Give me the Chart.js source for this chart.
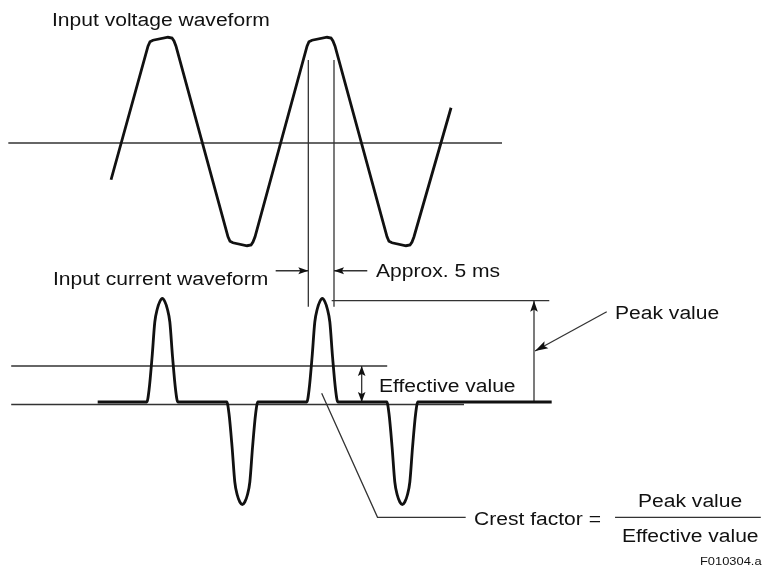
<!DOCTYPE html>
<html>
<head>
<meta charset="utf-8">
<script src="https://cdn.jsdelivr.net/npm/chart.js@4.4.1/dist/chart.umd.min.js"></script>
<style>
  body { margin: 0; background: #fff; }
  #wrap { position: relative; width: 763px; height: 574px; }
</style>
</head>
<body>
<div id="wrap"><canvas id="chart"></canvas></div>
<script>
// ---------------- data (time in ms, voltage in V, current in A) ----------------
const voltageTime = [-1.12, 3.5, 3.75, 4.12, 6.0, 6.5, 6.75, 7.0, 13.5, 13.75, 14.12, 15.88, 16.38, 16.62, 16.88,
  23.38, 23.62, 24.0, 25.88, 26.38, 26.62, 26.88, 33.38, 33.62, 34.0, 35.75, 36.25, 36.5, 36.75, 41.38]
const voltageValues = [-49, 129, 135, 137, 141, 140, 136, 129, -125, -131, -133, -137, -136, -132, -125,
  129, 135, 137, 141, 140, 136, 129, -125, -131, -133, -137, -136, -132, -125, 47]

const currentTime = [-2.79,
  3.35, 3.63, 4.01, 4.35, 4.66, 4.98, 5.29, 5.60, 5.92, 6.23, 6.57, 6.95, 7.23,
  13.35, 13.63, 14.01, 14.35, 14.66, 14.98, 15.29, 15.60, 15.92, 16.23, 16.57, 16.95, 17.23,
  23.35, 23.63, 24.01, 24.35, 24.66, 24.98, 25.29, 25.60, 25.92, 26.23, 26.57, 26.95, 27.23,
  33.35, 33.63, 34.01, 34.35, 34.66, 34.98, 35.29, 35.60, 35.92, 36.23, 36.57, 36.95, 37.23,
  53.96]
const currentValues = [0,
  0, 1.2, 4.5, 8.0, 9.3, 10.05, 10.35, 10.05, 9.3, 8.0, 4.5, 1.2, 0,
  0, -1.2, -4.5, -8.0, -9.3, -10.0, -10.25, -10.0, -9.3, -8.0, -4.5, -1.2, 0,
  0, 1.2, 4.5, 8.0, 9.3, 10.05, 10.35, 10.05, 9.3, 8.0, 4.5, 1.2, 0,
  0, -1.2, -4.5, -8.0, -9.3, -10.0, -10.25, -10.0, -9.3, -8.0, -4.5, -1.2, 0,
  0]

const peakLevel = 10.13
const effectiveLevel = 3.6
const pulseEdges = [23.54, 26.75]   // "Approx. 5 ms" markers

// ---------------- scale layout ----------------
const W = 763, H = 574
const msPx = 8, zeroTimePx = 120
const voltPx = 0.75, zeroVoltPx = 143
const ampPx = 10, zeroAmpPx = 402

const INK = '#111'
const THIN = '#333'

const toPoints = (xs, ys) => xs.map((x, i) => ({ x: x, y: ys[i] }))

const labels = [
  { text: 'Input voltage waveform', x: 52, y: 26 },
  { text: 'Input current waveform', x: 53, y: 285 },
  { text: 'Approx. 5 ms', x: 376, y: 277 },
  { text: 'Effective value', x: 379, y: 392 },
  { text: 'Peak value', x: 615, y: 319 },
  { text: 'Crest factor =', x: 474, y: 525 },
  { text: 'Peak value', x: 638, y: 507 },
  { text: 'Effective value', x: 622, y: 542 },
  { text: 'F010304.a', x: 700, y: 565, size: 11 }
]

const annotate = {
  id: 'annotate',
  beforeDatasetsDraw(chart) {
    const ctx = chart.ctx
    const sx = chart.scales.x, sv = chart.scales.yV, si = chart.scales.yI
    const px = t => sx.getPixelForValue(t)
    const pv = v => sv.getPixelForValue(v)
    const pi = a => si.getPixelForValue(a)

    const seg = (x1, y1, x2, y2) => {
      ctx.beginPath(); ctx.moveTo(x1, y1); ctx.lineTo(x2, y2); ctx.stroke()
    }
    const head = (x1, y1, x2, y2, len, half) => {
      const a = Math.atan2(y2 - y1, x2 - x1)
      ctx.beginPath()
      ctx.moveTo(x2, y2)
      ctx.lineTo(x2 - len * Math.cos(a) + half * Math.sin(a), y2 - len * Math.sin(a) - half * Math.cos(a))
      ctx.lineTo(x2 - len * 0.8 * Math.cos(a), y2 - len * 0.8 * Math.sin(a))
      ctx.lineTo(x2 - len * Math.cos(a) - half * Math.sin(a), y2 - len * Math.sin(a) + half * Math.cos(a))
      ctx.closePath(); ctx.fill()
    }
    const arrow = (x1, y1, x2, y2, len, half) => {
      seg(x1, y1, x2, y2); head(x1, y1, x2, y2, len, half)
    }

    ctx.save()
    ctx.strokeStyle = THIN
    ctx.fillStyle = INK
    ctx.lineWidth = 1.3

    // zero lines
    seg(px(-13.96), pv(0), px(47.75), pv(0))
    seg(px(-13.6), pi(-0.25), px(43.0), pi(-0.25))
    // effective and peak levels
    seg(px(-13.6), pi(effectiveLevel), px(33.4), pi(effectiveLevel))
    seg(px(26.46), pi(peakLevel), px(53.66), pi(peakLevel))
    // pulse width markers
    pulseEdges.forEach(t => seg(px(t), pv(110.7), px(t), pv(-218.3)))
    arrow(px(19.46), pv(-170.3), px(pulseEdges[0]), pv(-170.3), 10, 3.5)
    arrow(px(30.91), pv(-170.3), px(pulseEdges[1]), pv(-170.3), 10, 3.5)
    // peak arrow
    arrow(px(51.75), pi(0), px(51.75), pi(peakLevel), 11, 3.8)
    // effective double arrow
    arrow(px(30.21), pi(1.8), px(30.21), pi(effectiveLevel), 10, 3.8)
    arrow(px(30.21), pi(1.8), px(30.21), pi(0), 10, 3.8)
    // pointer to peak arrow
    arrow(px(60.84), pi(9.03), px(51.88), pi(5.1), 13, 4)
    // crest factor leader
    ctx.beginPath()
    ctx.moveTo(px(25.21), pi(0.87))
    ctx.lineTo(px(32.19), pi(-11.53))
    ctx.lineTo(px(43.21), pi(-11.53))
    ctx.stroke()
    // fraction bar
    seg(px(61.88), pi(-11.53), px(80.1), pi(-11.53))
    ctx.restore()
  },
  afterDatasetsDraw(chart) {
    const ctx = chart.ctx
    ctx.save()
    ctx.fillStyle = INK
    ctx.textBaseline = 'alphabetic'
    labels.forEach(l => {
      ctx.font = (l.size || 18) + 'px "Liberation Sans", Arial, sans-serif'
      ctx.save()
      ctx.translate(l.x, l.y)
      ctx.scale(1.17, 1)
      ctx.fillText(l.text, 0, 0)
      ctx.restore()
    })
    ctx.restore()
  }
}

new Chart(document.getElementById('chart'), {
  type: 'line',
  data: {
    datasets: [
      {
        data: toPoints(voltageTime, voltageValues),
        yAxisID: 'yV',
        borderColor: INK,
        borderWidth: 2.8,
        tension: 0,
        pointRadius: 0
      },
      {
        data: toPoints(currentTime, currentValues),
        yAxisID: 'yI',
        borderColor: INK,
        borderWidth: 2.8,
        cubicInterpolationMode: 'monotone',
        pointRadius: 0
      }
    ]
  },
  options: {
    responsive: true,
    maintainAspectRatio: false,
    animation: false,
    events: [],
    layout: { padding: 0 },
    plugins: { legend: { display: false }, tooltip: { enabled: false } },
    scales: {
      x: {
        type: 'linear', display: false,
        min: -zeroTimePx / msPx,
        max: (W - zeroTimePx) / msPx
      },
      yV: {
        type: 'linear', display: false,
        min: -(H - zeroVoltPx) / voltPx,
        max: zeroVoltPx / voltPx
      },
      yI: {
        type: 'linear', display: false,
        min: -(H - zeroAmpPx) / ampPx,
        max: zeroAmpPx / ampPx
      }
    }
  },
  plugins: [annotate]
})
</script>
</body>
</html>
